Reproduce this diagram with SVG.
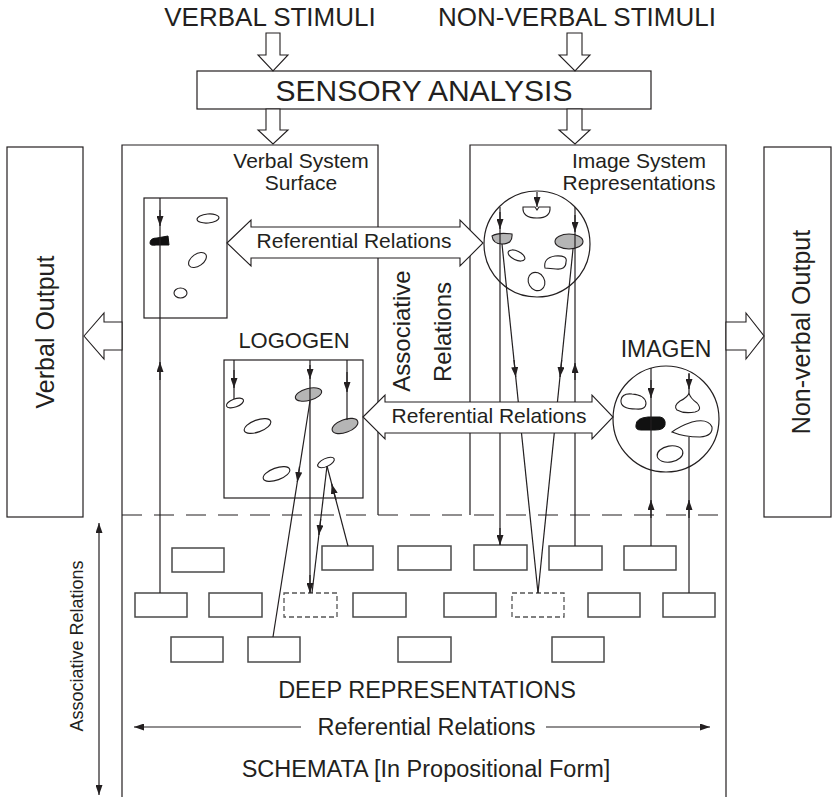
<svg xmlns="http://www.w3.org/2000/svg" width="837" height="797" viewBox="0 0 837 797">
<style>
.t{font-family:"Liberation Sans",Arial,Helvetica,sans-serif;fill:#231f20;text-anchor:middle}
.ln{stroke:#231f20;stroke-width:1.2;fill:none}
.bx{fill:#fff;stroke:#231f20;stroke-width:1.2}
.sb{fill:#fff;stroke:#4a4a4a;stroke-width:1.5}
.db{fill:#fff;stroke:#555;stroke-width:1.3;stroke-dasharray:5 3}
.ha{fill:#fff;stroke:#231f20;stroke-width:1.1;stroke-linejoin:miter}
.w{fill:#fff;stroke:#231f20;stroke-width:1.1}
.g{fill:#b5b5b5;stroke:#231f20;stroke-width:1.1}
.k{fill:#111;stroke:#111;stroke-width:1}
.ar{stroke:#231f20;stroke-width:1.2;fill:none;marker-end:url(#ah)}
</style>
<defs>
<marker id="ah" viewBox="0 0 10 7" refX="10" refY="3.5" markerUnits="userSpaceOnUse" markerWidth="10" markerHeight="7" orient="auto-start-reverse">
<path d="M0,0 L10,3.5 L0,7 Z" fill="#231f20"/>
</marker>
</defs>

<g id="frame">
<rect class="bx" x="7" y="147" width="76" height="370"/>
<rect class="bx" x="764" y="147" width="67" height="370"/>
<path class="ln" d="M122,797 V145 H378 V515"/>
<path class="ln" d="M470,515 V145 H726 V797"/>
<path class="ln" d="M122,515 H726" stroke-dasharray="20 12"/>
</g>

<g id="sensory">
<rect class="bx" x="197" y="71" width="454" height="38"/>
<text class="t" x="424" y="101" font-size="30">SENSORY ANALYSIS</text>
</g>

<g id="stimuli">
<text class="t" x="270" y="26" font-size="26">VERBAL STIMULI</text>
<text class="t" x="577" y="26" font-size="26">NON-VERBAL STIMULI</text>
</g>

<g id="verbal-surface">
<text class="t" x="301" y="168" font-size="21">Verbal System</text>
<text class="t" x="301" y="190" font-size="21">Surface</text>
<rect class="bx" x="144" y="198" width="83" height="120"/>
<ellipse class="w" cx="208" cy="218.5" rx="11" ry="4.5" transform="rotate(-5 208 218.5)"/>
<path class="k" d="M150,243 Q150,238 157,238 L168,236 L169,245 L156,245 Q150,246 150,243 Z"/>
<ellipse class="w" cx="197.5" cy="260" rx="10" ry="6" transform="rotate(-35 197.5 260)"/>
<ellipse class="w" cx="180.5" cy="293" rx="6.5" ry="5"/>
</g>

<g id="image-representations">
<text class="t" x="639" y="168" font-size="21">Image System</text>
<text class="t" x="639" y="190" font-size="21">Representations</text>
<circle class="bx" cx="537" cy="244" r="53"/>
<path class="w" d="M523,207 L535,207 L537,210 L539,207 L550,207 Q551,218 537,218 Q522,218 523,207 Z"/>
<path class="g" d="M492,236 Q498,232 512,234 Q513,244 502,244 Q493,244 492,236 Z"/>
<ellipse class="g" cx="569" cy="241.5" rx="14" ry="7.5"/>
<ellipse class="w" cx="516.5" cy="255.5" rx="9" ry="4.5" transform="rotate(25 516.5 255.5)"/>
<path class="w" d="M545,268 Q543,258 555,256 Q568,255 566,262 Q566,270 556,269 Z"/>
<ellipse class="w" cx="536.5" cy="281.5" rx="8" ry="9.5" transform="rotate(-30 536.5 281.5)"/>
</g>

<g id="logogen">
<text class="t" x="294" y="348" font-size="22">LOGOGEN</text>
<rect class="bx" x="224" y="360" width="139" height="138"/>
<ellipse class="w" cx="235" cy="403" rx="9" ry="4" transform="rotate(-20 235 403)"/>
<ellipse class="g" cx="308.5" cy="394.5" rx="13.5" ry="6" transform="rotate(-15 308.5 394.5)"/>
<ellipse class="g" cx="345" cy="426" rx="13.5" ry="6.5" transform="rotate(-20 345 426)"/>
<ellipse class="w" cx="257.5" cy="426" rx="14" ry="6" transform="rotate(-20 257.5 426)"/>
<ellipse class="w" cx="276.5" cy="474" rx="14" ry="6" transform="rotate(-20 276.5 474)"/>
<ellipse class="w" cx="326" cy="462.5" rx="9" ry="4" transform="rotate(-25 326 462.5)"/>
</g>

<g id="imagen">
<text class="t" x="666" y="357" font-size="23">IMAGEN</text>
<circle class="bx" cx="666" cy="419" r="53"/>
<path class="w" d="M621,400 Q622,393 632,394 Q645,395 646,403 Q646,410 636,409 Q620,409 621,400 Z"/>
<path class="k" d="M636,425 Q636,418 648,417 L660,417 Q666,418 665,425 Q664,430 655,430 L641,430 Q635,430 636,425 Z"/>
<path class="w" d="M689,393 Q690,398 697,403 Q703,410 695,412 Q684,414 677,410 Q673,406 680,401 Q688,397 689,393 Z"/>
<path class="w" d="M672,432 Q680,426 692,422 Q708,418 712,427 Q713,436 700,437 Q684,437 672,432 Z"/>
<ellipse class="w" cx="670" cy="454" rx="13" ry="8" transform="rotate(-10 670 454)"/>
</g>

<g id="deep-representations">
<rect class="sb" x="172" y="548" width="52" height="24"/>
<rect class="sb" x="322" y="546" width="51" height="24"/>
<rect class="sb" x="398" y="546" width="53" height="24"/>
<rect class="sb" x="474" y="545" width="53" height="25"/>
<rect class="sb" x="549" y="546" width="53" height="24"/>
<rect class="sb" x="624" y="546" width="52" height="24"/>
<rect class="sb" x="135" y="593" width="52" height="24"/>
<rect class="sb" x="209" y="593" width="53" height="24"/>
<rect class="db" x="284" y="593" width="53" height="24"/>
<rect class="sb" x="353" y="593" width="53" height="24"/>
<rect class="sb" x="444" y="593" width="52" height="24"/>
<rect class="db" x="512" y="593" width="52" height="24"/>
<rect class="sb" x="588" y="593" width="52" height="24"/>
<rect class="sb" x="663" y="593" width="52" height="24"/>
<rect class="sb" x="171" y="637" width="52" height="25"/>
<rect class="sb" x="248" y="637" width="52" height="25"/>
<rect class="sb" x="398" y="637" width="53" height="25"/>
<rect class="sb" x="552" y="637" width="52" height="25"/>
<text class="t" x="427" y="698" font-size="23.5">DEEP REPRESENTATIONS</text>
<text class="t" x="426.5" y="735" font-size="23.5">Referential Relations</text>
<text class="t" x="426" y="777" font-size="23.5">SCHEMATA [In Propositional Form]</text>
</g>

<g id="connectors">
<path class="ln" d="M160,593 V198"/>
<path class="ar" d="M160,380 V362"/>
<path class="ar" d="M160,210 V226"/>
<path class="ln" d="M234,360 V399"/>
<path class="ar" d="M234,370 V388"/>
<path class="ln" d="M310,360 V593"/>
<path class="ar" d="M310,365 V379"/>
<path class="ar" d="M310,575 V593"/>
<path class="ln" d="M347,360 V420"/>
<path class="ar" d="M347,372 V392"/>
<path class="ln" d="M310,401 L273,637"/>
<path class="ar" d="M299.5,466.7 L297.3,482"/>
<path class="ln" d="M327,466 L312,593"/>
<path class="ar" d="M320.7,519 L318.9,535"/>
<path class="ln" d="M327,466 L348,546"/>
<path class="ar" d="M336,500 L331.7,484"/>
<path class="ln" d="M500,207 V545"/>
<path class="ar" d="M500,212 V229"/>
<path class="ar" d="M500,528 V545"/>
<path class="ln" d="M502,244 L538,593"/>
<path class="ar" d="M514,360 L515.7,377"/>
<path class="ln" d="M573,249 L538,593"/>
<path class="ar" d="M561.7,360 L560,377"/>
<path class="ln" d="M575,207 V546"/>
<path class="ar" d="M575,215 V232"/>
<path class="ar" d="M575,380 V363"/>
<path class="ar" d="M537,192 V207"/>
<path class="ln" d="M651,368 V546"/>
<path class="ar" d="M651,380 V398"/>
<path class="ar" d="M651,518 V500"/>
<path class="ln" d="M689,373 V393"/>
<path class="ar" d="M689,374 V389"/>
<path class="ln" d="M689,437 V593"/>
<path class="ar" d="M689,518 V500"/>
<path class="ar" d="M301,727 H134"/>
<path class="ar" d="M546,727 H710"/>
<path class="ln" d="M99,523 V795" marker-start="url(#ah)" marker-end="url(#ah)"/>
</g>

<g id="hollow-arrows">
<polygon class="ha" points="266,33 280,33 280,55 288,55 273,71 258,55 266,55"/>
<polygon class="ha" points="567,33 582,33 582,55 590,55 575,71 559,55 567,55"/>
<polygon class="ha" points="266,109 280,109 280,130 288,130 273,144 258,130 266,130"/>
<polygon class="ha" points="567,109 582,109 582,130 590,130 575,144 559,130 567,130"/>
<polygon class="ha" points="227,243 251,220 251,227 460,227 460,220 483,243 460,266 460,258 251,258 251,266"/>
<polygon class="ha" points="363,417 385,395 385,402 592,402 592,395 613,417 592,439 592,433 385,433 385,439"/>
<polygon class="ha" points="84,336 104,313 104,322 122,322 122,350 104,350 104,359"/>
<polygon class="ha" points="726,322 746,322 746,313 764,336 746,359 746,350 726,350"/>
</g>

<g id="labels">
<text class="t" x="354" y="248" font-size="21">Referential Relations</text>
<text class="t" x="489" y="423" font-size="21">Referential Relations</text>
<text class="t" font-size="24" transform="translate(410,331) rotate(-90)">Associative</text>
<text class="t" font-size="24" transform="translate(451,332) rotate(-90)">Relations</text>
<text class="t" font-size="25" transform="translate(54,332) rotate(-90)">Verbal Output</text>
<text class="t" font-size="25" transform="translate(810,332) rotate(-90)">Non-verbal Output</text>
<text class="t" font-size="18" transform="translate(83,646) rotate(-90)">Associative Relations</text>
</g>
</svg>
